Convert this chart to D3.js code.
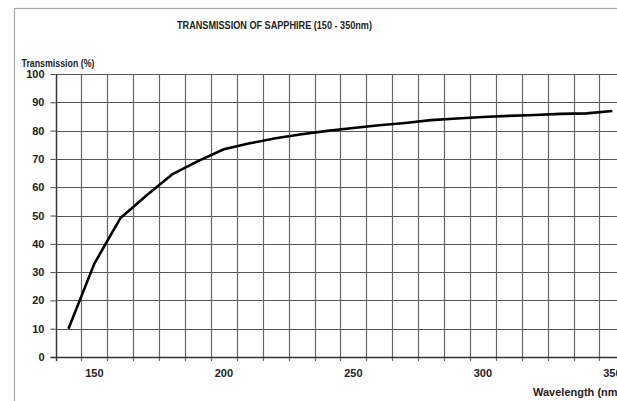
<!DOCTYPE html>
<html>
<head>
<meta charset="utf-8">
<script src="https://cdn.jsdelivr.net/npm/d3@7"></script>
<style>
  html, body { margin: 0; padding: 0; background: #fff; overflow: hidden; }
  svg { display: block; font-family: "Liberation Sans", Arial, sans-serif; }
</style>
</head>
<body>
<svg id="chart" width="617" height="401"></svg>
<script>
// ---- data ----
const wavelengths = [140, 150, 160, 170, 180, 190, 200, 210, 220, 230, 240, 250, 260, 270, 280, 290, 300, 310, 320, 330, 340, 350];
const transmission = [10, 33, 49, 57, 64.5, 69.2, 73.4, 75.5, 77.3, 78.7, 79.9, 80.9, 81.9, 82.7, 83.7, 84.3, 84.8, 85.2, 85.5, 85.9, 86.1, 86.9];
const yTicks = [0, 10, 20, 30, 40, 50, 60, 70, 80, 90, 100];
const xTickLabels = [150, 200, 250, 300, 350];
const titleText = "TRANSMISSION OF SAPPHIRE (150 - 350nm)";
const yLabelText = "Transmission (%)";
const xLabelText = "Wavelength (nm)";

// ---- layout ----
const svg = d3.select("#chart");
const plotLeft = 55.5, plotTop = 74, plotBottom = 357;
const band = 25.9;
const plotRight = plotLeft + wavelengths.length * band;

const x = d3.scaleBand().domain(wavelengths).range([plotLeft, plotRight]).padding(0);
const y = d3.scaleLinear().domain([0, 100]).range([plotBottom, plotTop]);

// outer frame
svg.append("rect")
  .attr("x", 14.5).attr("y", 8.5)
  .attr("width", 700).attr("height", 500)
  .attr("fill", "#fff")
  .attr("stroke", "#a8a8a8").attr("stroke-width", 1.2);

// y axis ticks + labels
const yAxis = d3.axisLeft(y).tickValues(yTicks).tickSize(5).tickPadding(6).tickFormat(d3.format("d"));
const gy = svg.append("g").attr("transform", `translate(${plotLeft},0)`).call(yAxis);
gy.select(".domain").remove();
gy.selectAll(".tick line").attr("stroke", "#444");
gy.selectAll(".tick text")
  .attr("fill", "#222").attr("font-size", 11).attr("font-weight", "bold")
  .attr("font-family", "Liberation Sans, Arial, sans-serif");

// horizontal gridlines
svg.append("g").selectAll("line").data(yTicks).join("line")
  .attr("x1", plotLeft).attr("x2", plotRight)
  .attr("y1", d => Math.round(y(d)) + 0.5).attr("y2", d => Math.round(y(d)) + 0.5)
  .attr("stroke", "#555").attr("stroke-width", 1.2);

// vertical gridlines at category boundaries
const boundaries = wavelengths.map(w => x(w)).concat([x(wavelengths[wavelengths.length - 1]) + x.bandwidth()]);
svg.append("g").selectAll("line").data(boundaries).join("line")
  .attr("x1", d => Math.round(d) + 0.5).attr("x2", d => Math.round(d) + 0.5)
  .attr("y1", plotTop).attr("y2", plotBottom + 4)
  .attr("stroke", "#666").attr("stroke-width", 1.2);

// axis lines
svg.append("line").attr("x1", Math.round(plotLeft) + 0.5).attr("x2", Math.round(plotLeft) + 0.5)
  .attr("y1", plotTop).attr("y2", plotBottom + 4).attr("stroke", "#333").attr("stroke-width", 1.3);
svg.append("line").attr("x1", plotLeft - 5).attr("x2", plotRight)
  .attr("y1", plotBottom + 0.5).attr("y2", plotBottom + 0.5).attr("stroke", "#333").attr("stroke-width", 1.3);

// x axis labels
const xAxis = d3.axisBottom(x).tickValues(xTickLabels).tickSize(0).tickPadding(12);
const gx = svg.append("g").attr("transform", `translate(0,${plotBottom})`).call(xAxis);
gx.select(".domain").remove();
gx.selectAll(".tick text")
  .attr("fill", "#222").attr("font-size", 11).attr("font-weight", "bold")
  .attr("font-family", "Liberation Sans, Arial, sans-serif");

// curve
const line = d3.line()
  .x((d, i) => x(wavelengths[i]) + x.bandwidth() / 2)
  .y(d => y(d));
svg.append("path").datum(transmission)
  .attr("d", line)
  .attr("fill", "none").attr("stroke", "#000").attr("stroke-width", 2.6)
  .attr("stroke-linejoin", "round");

// texts
svg.append("text").attr("x", 177).attr("y", 29)
  .attr("textLength", 195).attr("lengthAdjust", "spacingAndGlyphs")
  .attr("font-size", 11).attr("font-weight", "bold").attr("fill", "#222").text(titleText);
svg.append("text").attr("x", 21.5).attr("y", 67)
  .attr("textLength", 73).attr("lengthAdjust", "spacingAndGlyphs")
  .attr("font-size", 11).attr("font-weight", "bold").attr("fill", "#222").text(yLabelText);
svg.append("text").attr("x", 533).attr("y", 396)
  .attr("font-size", 11).attr("font-weight", "bold").attr("fill", "#222").text(xLabelText);
</script>
</body>
</html>
